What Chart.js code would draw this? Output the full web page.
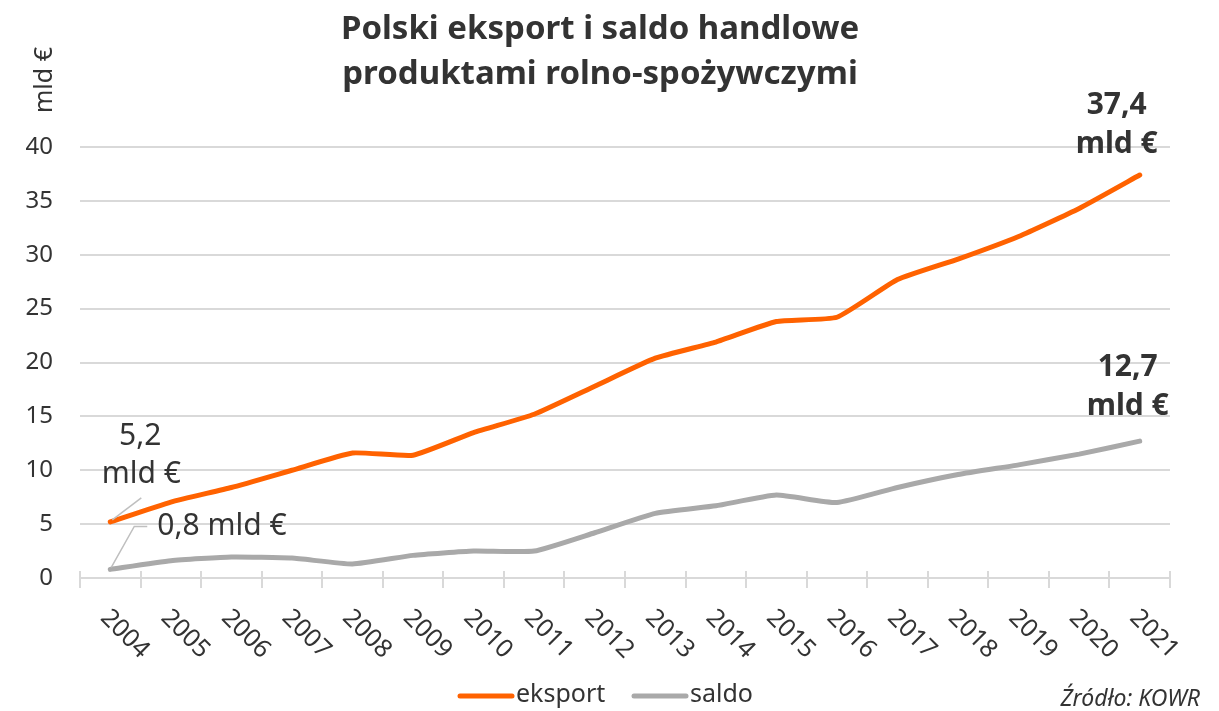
<!DOCTYPE html>
<html lang="pl">
<head>
<meta charset="utf-8">
<title>Polski eksport i saldo handlowe</title>
<script src="https://cdn.jsdelivr.net/npm/chart.js@4/dist/chart.umd.min.js"></script>
<style>
  html, body { margin: 0; padding: 0; background: #fff; }
  #wrap { width: 1219px; height: 711px; }
</style>
</head>
<body>
<div id="wrap"><canvas id="chart"></canvas></div>
<script>
// Data (mld €)
const years = ['2004', '2005', '2006', '2007', '2008', '2009', '2010', '2011', '2012',
  '2013', '2014', '2015', '2016', '2017', '2018', '2019', '2020', '2021'];
const eksport = [5.2, 7.05, 8.4, 10.0, 11.6, 11.4, 13.5, 15.2, 17.8,
  20.4, 21.9, 23.8, 24.2, 27.7, 29.6, 31.7, 34.3, 37.4];
const saldo = [0.8, 1.6, 1.95, 1.85, 1.3, 2.1, 2.5, 2.5, 4.2,
  6.0, 6.7, 7.7, 7.0, 8.4, 9.6, 10.5, 11.5, 12.7];
const yTicks = [0, 5, 10, 15, 20, 25, 30, 35, 40];

const titleLines = ['Polski eksport i saldo handlowe', 'produktami rolno-spożywczymi'];
const unitLabel = 'mld €';
const sourceText = 'Źródło: KOWR';

// Colors
const colors = {
  eksport: '#FF6200',
  saldo: '#A9A9A9',
  text: '#333333',
  grid: '#D9D9D9',
  leader: '#BFBFBF'
};
const FONT = '"Noto Sans", "Open Sans", sans-serif';

// Draws title, rotated x labels, tick marks, annotations and legend
const decorations = {
  id: 'decorations',
  afterDraw(chart) {
    const ctx = chart.ctx;
    const x = chart.scales.x;
    const y = chart.scales.y;
    const area = chart.chartArea;

    ctx.save();
    ctx.fillStyle = colors.text;

    // Title
    ctx.font = 'bold 33px ' + FONT;
    ctx.textAlign = 'center';
    ctx.textBaseline = 'middle';
    ctx.fillText(titleLines[0], 600, 30);
    ctx.fillText(titleLines[1], 600, 75);

    // Unit label
    ctx.save();
    ctx.translate(45, 80);
    ctx.rotate(-Math.PI / 2);
    ctx.font = '25px ' + FONT;
    ctx.fillText(unitLabel, 0, 0);
    ctx.restore();

    // x tick marks at category boundaries
    ctx.strokeStyle = colors.grid;
    ctx.lineWidth = 2;
    const step = x.getPixelForValue(1) - x.getPixelForValue(0);
    for (let i = 0; i <= years.length; i++) {
      const px = Math.round(x.getPixelForValue(i) - step / 2);
      ctx.beginPath();
      ctx.moveTo(px, area.bottom - 7);
      ctx.lineTo(px, area.bottom + 10);
      ctx.stroke();
    }

    // Rotated year labels
    ctx.font = '25px ' + FONT;
    ctx.textAlign = 'left';
    ctx.textBaseline = 'top';
    years.forEach((yr, i) => {
      const px = x.getPixelForValue(i);
      ctx.save();
      ctx.translate(px + 3, area.bottom + 27);
      ctx.rotate(Math.PI / 4);
      ctx.fillText(yr, 0, 0);
      ctx.restore();
    });

    // Annotations at the start
    const e0x = x.getPixelForValue(0), e0y = y.getPixelForValue(eksport[0]);
    const s0x = x.getPixelForValue(0), s0y = y.getPixelForValue(saldo[0]);
    ctx.strokeStyle = colors.leader;
    ctx.lineWidth = 1.5;
    ctx.beginPath();
    ctx.moveTo(e0x + 2, e0y - 2);
    ctx.lineTo(e0x + 31, e0y - 24);
    ctx.stroke();
    ctx.beginPath();
    ctx.moveTo(s0x + 1, s0y - 2);
    ctx.lineTo(s0x + 24, s0y - 43);
    ctx.lineTo(s0x + 37, s0y - 43);
    ctx.stroke();

    ctx.font = '30px ' + FONT;
    ctx.textAlign = 'center';
    ctx.textBaseline = 'middle';
    ctx.fillText('5,2', e0x + 30, e0y - 86);
    ctx.fillText(unitLabel, e0x + 31, e0y - 48);
    ctx.textAlign = 'left';
    ctx.fillText('0,8 ' + unitLabel, s0x + 47, s0y - 43);

    // Annotations at the end (bold)
    const last = years.length - 1;
    const eNx = x.getPixelForValue(last), eNy = y.getPixelForValue(eksport[last]);
    const sNx = x.getPixelForValue(last), sNy = y.getPixelForValue(saldo[last]);
    ctx.font = 'bold 30px ' + FONT;
    ctx.textAlign = 'center';
    ctx.fillText('37,4', eNx - 23, eNy - 70);
    ctx.fillText(unitLabel, eNx - 23, eNy - 31);
    ctx.fillText('12,7', sNx - 12, sNy - 74);
    ctx.fillText(unitLabel, sNx - 12, sNy - 35);

    // Legend
    const legendY = 696;
    const items = [
      { label: 'eksport', color: colors.eksport, x: 460 },
      { label: 'saldo', color: colors.saldo, x: 634 }
    ];
    ctx.font = '25px ' + FONT;
    ctx.textAlign = 'left';
    ctx.lineCap = 'round';
    ctx.lineWidth = 5;
    items.forEach(it => {
      ctx.strokeStyle = it.color;
      ctx.beginPath();
      ctx.moveTo(it.x, legendY);
      ctx.lineTo(it.x + 52, legendY);
      ctx.stroke();
      ctx.fillText(it.label, it.x + 56, legendY - 1);
    });

    // Source
    ctx.font = 'italic 23px ' + FONT;
    ctx.textAlign = 'right';
    ctx.fillText(sourceText, 1200, 699);

    ctx.restore();
  }
};

const ctx = document.getElementById('chart').getContext('2d');
new Chart(ctx, {
  type: 'line',
  data: {
    labels: years,
    datasets: [
      {
        label: 'eksport',
        data: eksport,
        borderColor: colors.eksport,
        backgroundColor: colors.eksport,
        borderWidth: 5,
        borderCapStyle: 'round',
        borderJoinStyle: 'round',
        pointRadius: 0,
        tension: 0.15,
        fill: false
      },
      {
        label: 'saldo',
        data: saldo,
        borderColor: colors.saldo,
        backgroundColor: colors.saldo,
        borderWidth: 5,
        borderCapStyle: 'round',
        borderJoinStyle: 'round',
        pointRadius: 0,
        tension: 0.15,
        fill: false
      }
    ]
  },
  options: {
    responsive: true,
    maintainAspectRatio: false,
    animation: false,
    layout: {
      padding: { top: 147, right: 49, bottom: 0, left: 0 }
    },
    scales: {
      x: {
        type: 'category',
        offset: true,
        afterFit: scale => { scale.height = 133; },
        ticks: { display: false },
        grid: { display: false },
        border: { display: true, color: colors.grid, width: 2 }
      },
      y: {
        min: 0,
        max: 40,
        afterFit: scale => { scale.width = 80; },
        afterBuildTicks: scale => { scale.ticks = yTicks.map(v => ({ value: v })); },
        ticks: {
          color: colors.text,
          padding: 27,
          font: { family: FONT, size: 24 },
          callback: v => v
        },
        grid: { color: colors.grid, lineWidth: 2, drawTicks: false },
        border: { display: false }
      }
    },
    plugins: {
      legend: { display: false },
      title: { display: false },
      tooltip: { enabled: false }
    }
  },
  plugins: [decorations]
});
</script>
</body>
</html>
